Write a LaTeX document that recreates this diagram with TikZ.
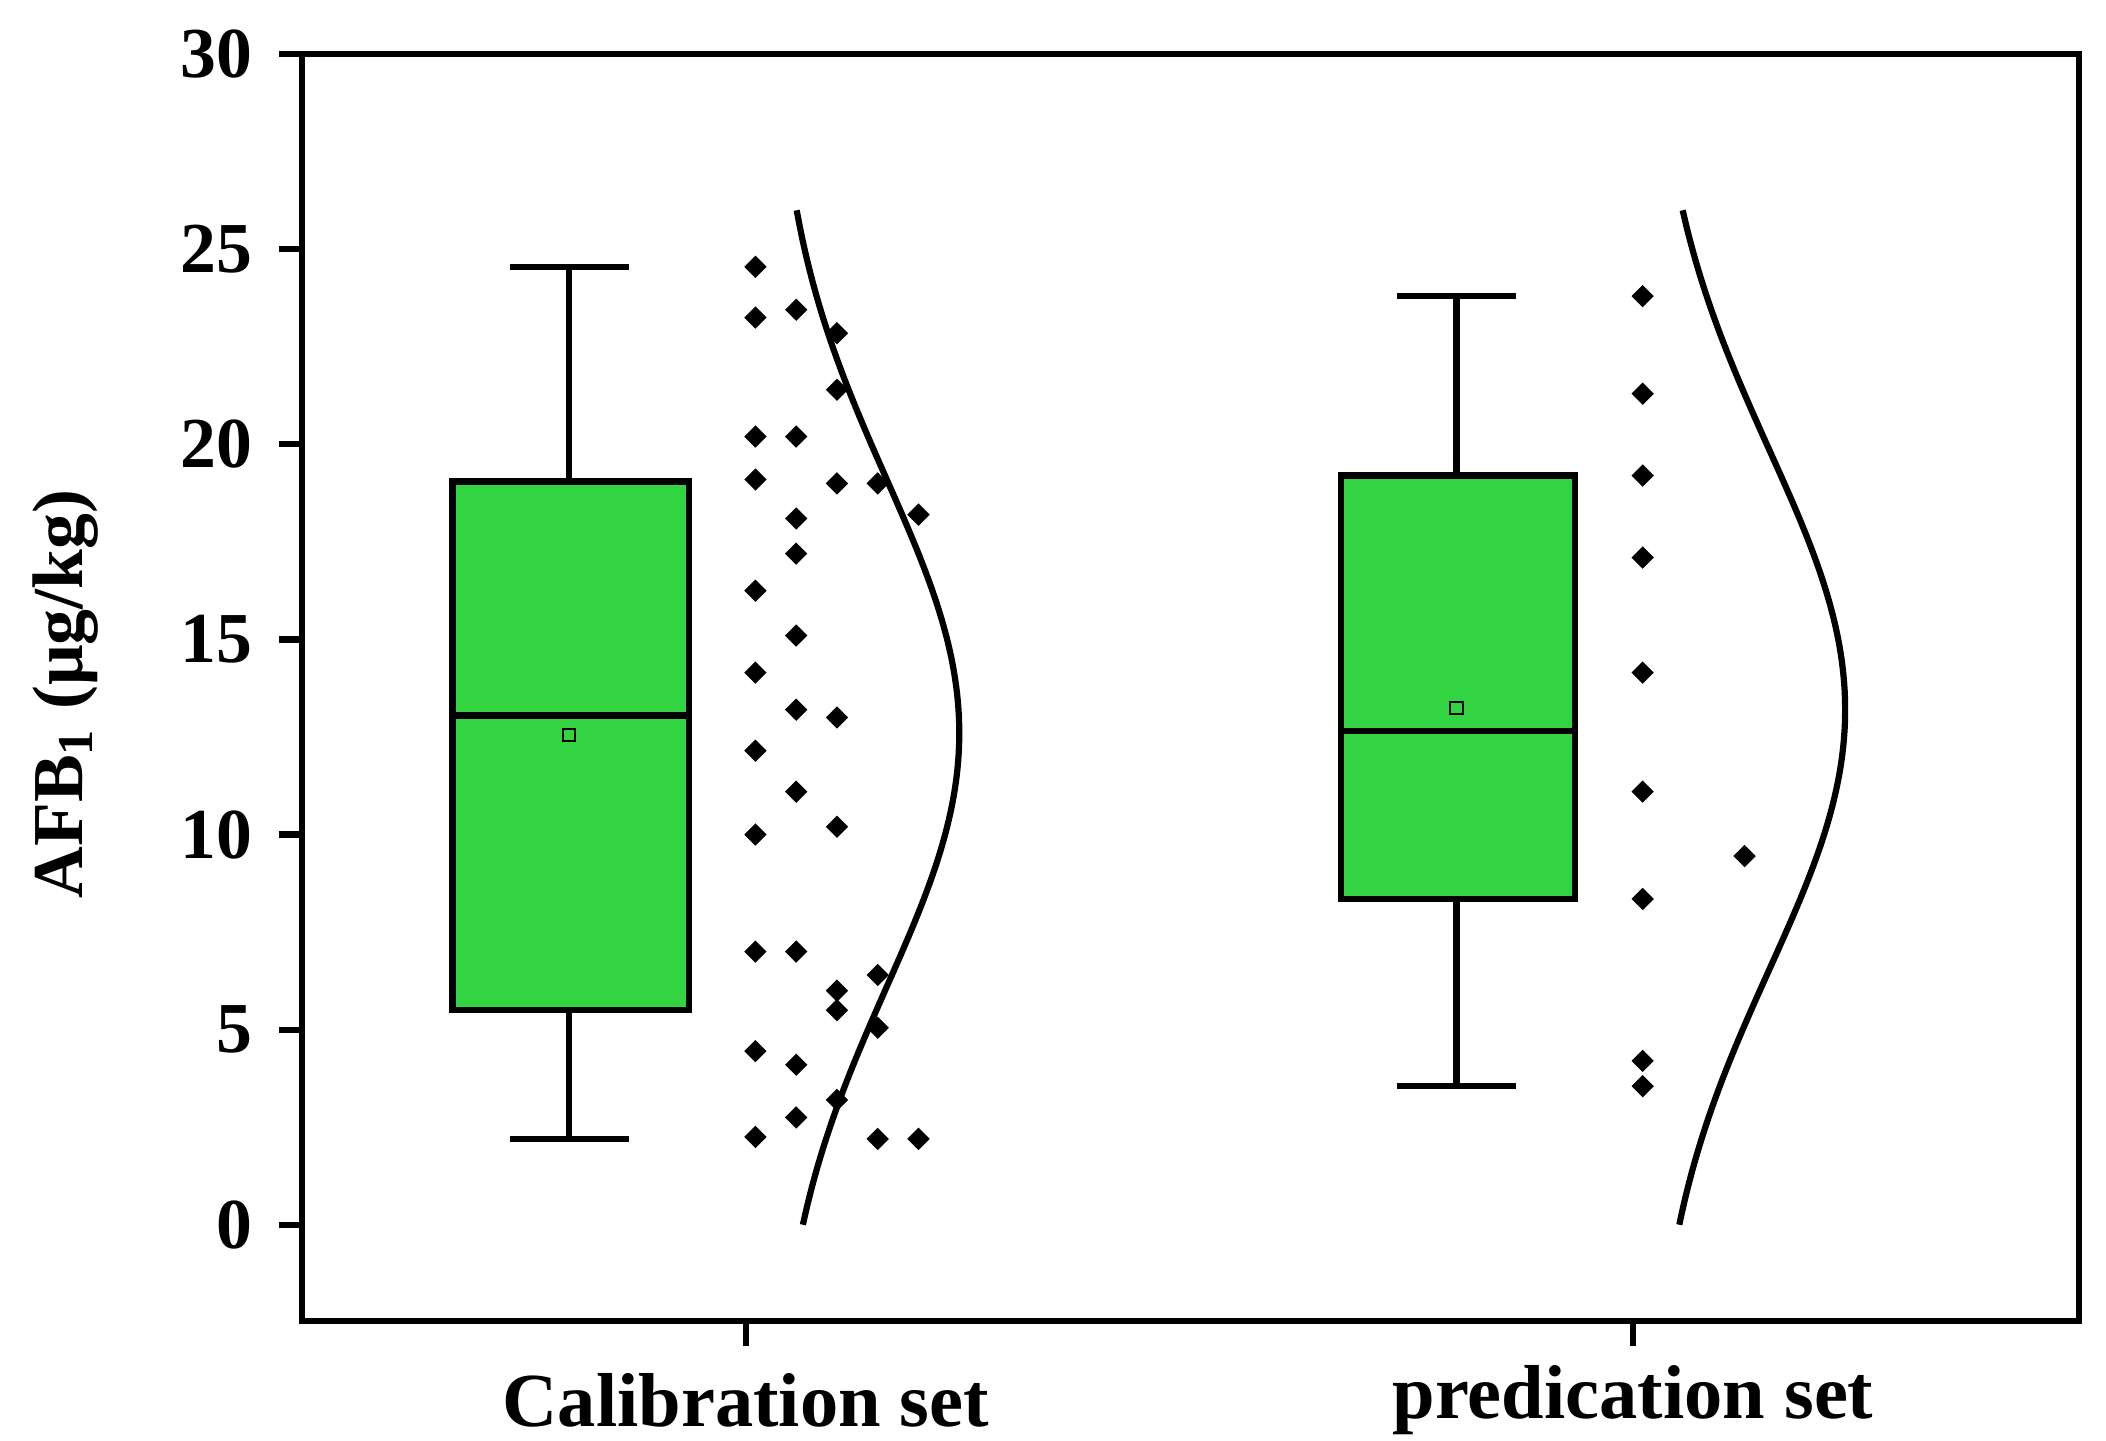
\documentclass[tikz,border=0pt]{standalone}
\usepackage{fontspec}
\setmainfont{Liberation Serif}
\usetikzlibrary{shapes.geometric}
\definecolor{boxgreen}{RGB}{50,212,66}
\tikzset{
  axisline/.style={line width=1.3pt},
  boxline/.style={line width=1.3pt},
  pt/.style={diamond,fill=black,inner sep=0pt,minimum size=0.17cm},
  meanpt/.style={draw,line width=0.4pt,inner sep=0pt,minimum size=0.09cm,fill=boxgreen},
  ticklab/.style={font=\fontsize{15}{15}\selectfont\bfseries},
}
\begin{document}
\begin{tikzpicture}[x=0.01cm,y=0.287cm]
\useasboundingbox (0,-5.54) rectangle (1550,31.39);

% Axes frame
\draw[axisline] (222,-2.47) rectangle (1530,30);
\foreach \v in {0,5,...,30}{
  \draw[axisline] (205,\v) -- (222,\v);
  \node[ticklab,anchor=east] (ylab\v) at (198,\v) {\v};
}
\draw[axisline] (549,-2.47) -- (549,-3.1);
\draw[axisline] (1202,-2.47) -- (1202,-3.1);
\node[ticklab,font=\fontsize{16}{16}\selectfont\bfseries] (xlab1) at (549,-4.5) {Calibration set};
\node[ticklab,font=\fontsize{16}{16}\selectfont\bfseries] (xlab2) at (1202,-4.5) {predication set};
\node[ticklab,rotate=90] (ytitle) at (48,13.6) {AFB\textsubscript{1} (μg/kg)};

% Calibration box
\draw[boxline] (375,2.2) -- (463,2.2);
\draw[boxline] (375,24.55) -- (463,24.55);
\draw[boxline] (419,2.2) -- (419,5.5);
\draw[boxline] (419,19.05) -- (419,24.55);
\draw[boxline,fill=boxgreen] (333,5.5) rectangle (507,19.05);
\draw[boxline] (333,13.05) -- (507,13.05);
\node[meanpt] (mean1) at (419,12.55) {};

% Predication box
\draw[boxline] (1028,3.55) -- (1116,3.55);
\draw[boxline] (1028,23.8) -- (1116,23.8);
\draw[boxline] (1072,3.55) -- (1072,8.35);
\draw[boxline] (1072,19.2) -- (1072,23.8);
\draw[boxline,fill=boxgreen] (987,8.35) rectangle (1159,19.2);
\draw[boxline] (987,12.65) -- (1159,12.65);
\node[meanpt] (mean2) at (1072,13.25) {};

% Data points
\foreach \v [count=\i] in {24.55,23.25,20.2,19.1,16.25,14.15,12.15,10.0,7.0,4.45,2.25}
  \node[pt] (ca\i) at (556,\v) {};
\foreach \v [count=\i] in {23.45,20.2,18.1,17.2,15.1,13.2,11.1,7.0,4.1,2.75}
  \node[pt] (cb\i) at (586,\v) {};
\foreach \v [count=\i] in {22.85,21.4,19.0,13.0,10.2,6.0,5.5,3.2}
  \node[pt] (cc\i) at (616,\v) {};
\foreach \v [count=\i] in {19.0,6.4,5.05,2.2}
  \node[pt] (cd\i) at (646,\v) {};
\foreach \v [count=\i] in {18.2,2.2}
  \node[pt] (ce\i) at (676,\v) {};
\foreach \v [count=\i] in {23.8,21.3,19.2,17.1,14.15,11.1,8.35,4.2,3.55}
  \node[pt] (pa\i) at (1209,\v) {};
\node[pt] (pb1) at (1284,9.45) {};

% Normal curves
\draw[boxline,smooth,samples=60,domain=0:26,variable=\t]
  plot ({570+136*exp(-(\t-12.6)^2/84.8)},\t);
\draw[boxline,smooth,samples=60,domain=0:26,variable=\t]
  plot ({1216+142*exp(-(\t-13.2)^2/88.8)},\t);
\end{tikzpicture}
\end{document}
